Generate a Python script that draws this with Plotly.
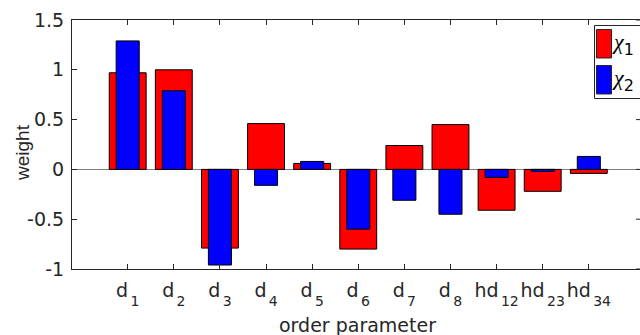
import plotly.graph_objects as go

categories = ["d<sub>1</sub>", "d<sub>2</sub>", "d<sub>3</sub>", "d<sub>4</sub>", "d<sub>5</sub>",
              "d<sub>6</sub>", "d<sub>7</sub>", "d<sub>8</sub>", "hd<sub>12</sub>",
              "hd<sub>23</sub>", "hd<sub>34</sub>"]
chi1 = [0.97, 1.00, -0.79, 0.46, 0.06, -0.80, 0.24, 0.45, -0.41, -0.22, -0.04]
chi2 = [1.29, 0.79, -0.96, -0.16, 0.08, -0.60, -0.31, -0.45, -0.08, -0.02, 0.13]
positions = list(range(1, len(categories) + 1))
y_ticks = [-1, -0.5, 0, 0.5, 1, 1.5]
y_ticktext = ["-1", "-0.5", "0", "0.5", "1", "1.5"]

W, H = 640, 335
ML, MR, MT, MB = 72, 0, 20, 66
PW, PH = W - ML - MR, H - MT - MB
AX = "#262626"
FONT = "DejaVu Sans, Liberation Sans, Arial, sans-serif"


def px(x):
    return (x - ML) / PW


def py(y):
    return (H - MB - y) / PH


def big_sub(label):
    return label.replace("<sub>", "<span style='font-size:14px;baseline-shift:-9px'>\u2006").replace("</sub>", "</span>")


fig = go.Figure()
fig.add_trace(go.Bar(x=positions, y=chi1, width=0.8, name="χ1",
                     marker=dict(color="#ff0000", line=dict(color="black", width=1)),
                     showlegend=False))
fig.add_trace(go.Bar(x=positions, y=chi2, width=0.5, name="χ2",
                     marker=dict(color="#0000ff", line=dict(color="black", width=1)),
                     showlegend=False))

shapes = []
# right-side inward ticks (axis edge just outside the picture)
for v in y_ticks:
    shapes.append(dict(type="line", xref="paper", yref="y", x0=1 - 4 / PW, x1=1.01,
                       y0=v, y1=v, line=dict(color=AX, width=1)))
# custom legend
shapes.append(dict(type="rect", xref="paper", yref="paper", x0=px(594.5), x1=px(660),
                   y0=py(98.5), y1=py(25.5), line=dict(color=AX, width=1), fillcolor="white"))
shapes.append(dict(type="rect", xref="paper", yref="paper", x0=px(596.5), x1=px(611.5),
                   y0=py(58), y1=py(29.5), line=dict(color=AX, width=1), fillcolor="#ff0000"))
shapes.append(dict(type="rect", xref="paper", yref="paper", x0=px(596.5), x1=px(611.5),
                   y0=py(94), y1=py(65.5), line=dict(color=AX, width=1), fillcolor="#0000ff"))

LEG_FONT = "Liberation Serif, DejaVu Serif, serif"
annotations = [
    dict(xref="paper", yref="paper", x=px(611), y=py(44), xanchor="left", yanchor="middle",
         text="<i>χ</i><span style='font-family:DejaVu Sans;font-size:16px;baseline-shift:-6px'>1</span>",
         showarrow=False, borderpad=0, font=dict(family=LEG_FONT, size=22, color="black")),
    dict(xref="paper", yref="paper", x=px(611), y=py(80), xanchor="left", yanchor="middle",
         text="<i>χ</i><span style='font-family:DejaVu Sans;font-size:16px;baseline-shift:-6px'>2</span>",
         showarrow=False, borderpad=0, font=dict(family=LEG_FONT, size=22, color="black")),
    dict(xref="paper", yref="paper", x=px(357), y=py(325), xanchor="center", yanchor="middle",
         text="order parameter", showarrow=False, font=dict(size=19, color=AX)),
    dict(xref="paper", yref="paper", x=px(22), y=py(153), xanchor="center", yanchor="middle",
         text="weight", textangle=-90, showarrow=False,
         font=dict(family="Liberation Sans, Arial, sans-serif", size=19, color=AX)),
]

fig.update_layout(
    width=W, height=H,
    margin=dict(l=ML, r=MR, t=MT, b=MB, pad=0),
    paper_bgcolor="white", plot_bgcolor="white",
    barmode="overlay",
    font=dict(family=FONT, size=19, color=AX),
    shapes=shapes,
    annotations=annotations,
    xaxis=dict(range=[-0.208, 12.11], tickmode="array", tickvals=positions,
               ticktext=[big_sub(c) for c in categories], tickangle=0,
               ticks="inside", ticklen=5, tickcolor=AX, showline=True, linecolor=AX, linewidth=1,
               mirror="ticks", showgrid=False, zeroline=False, automargin=False,
               ticklabelstandoff=4, tickfont=dict(size=19, color=AX)),
    yaxis=dict(range=[-1, 1.5], tickmode="array", tickvals=y_ticks, ticktext=y_ticktext,
               ticks="inside", ticklen=5, tickcolor=AX, showline=True, linecolor=AX, linewidth=1,
               mirror=False, showgrid=False, zeroline=True, zerolinecolor="#808080",
               zerolinewidth=1, automargin=False, ticklabelstandoff=3,
               tickfont=dict(size=19, color=AX)),
)

fig.write_html("out.html", config={"displayModeBar": False},
               post_script="document.body.style.margin='0';document.body.style.overflow='hidden';")
